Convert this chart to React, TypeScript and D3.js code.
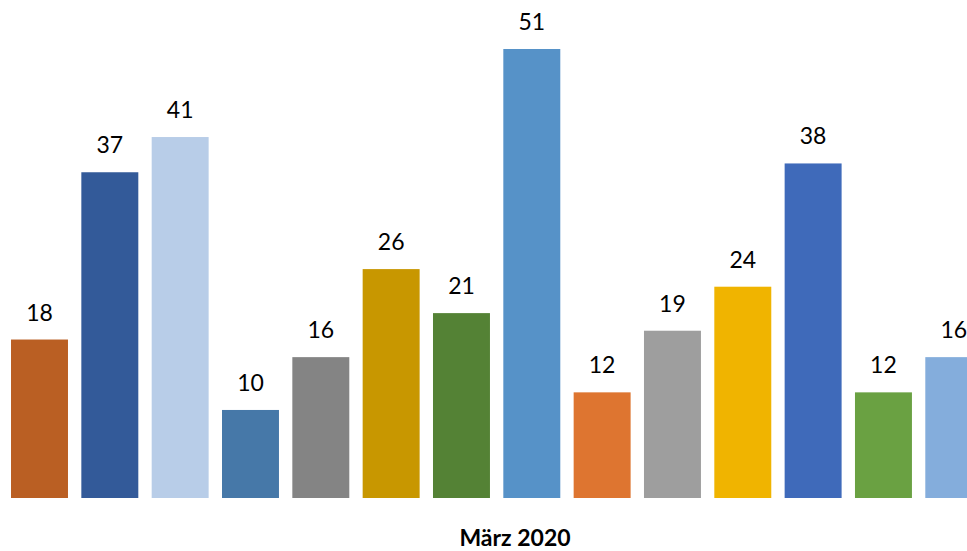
import React from "react";
import * as d3 from "d3";

const categories = ["1", "2", "3", "4", "5", "6", "7", "8", "9", "10", "11", "12", "13", "14"];
const values = [18, 37, 41, 10, 16, 26, 21, 51, 12, 19, 24, 38, 12, 16];
const colors = [
  "#BA5F23", "#335A99", "#B8CDE8", "#4678A8", "#848484", "#C89700", "#548235",
  "#5692C8", "#DE7530", "#9E9E9E", "#F0B400", "#3F6ABA", "#6AA142", "#84ADDC",
];
const axisTitle = "März 2020";

const W = 967;
const H = 551;

export default function App() {
  const x = d3
    .scaleBand<string>()
    .domain(categories)
    .range([4.33, 4.33 + 14 * 70.33])
    .paddingInner(0.19)
    .paddingOuter(0.095);
  const y = d3.scaleLinear().domain([0, 51]).range([498, 49]);
  const font = "Lato, 'Open Sans', sans-serif";
  return (
    <svg
      width={W}
      height={H}
      style={{ position: "absolute", left: 0, top: 0, background: "#fff" }}
    >
      {values.map((v, i) => {
        const c = categories[i];
        const bx = x(c)!;
        return (
          <g key={c}>
            <rect x={bx} y={y(v)} width={x.bandwidth()} height={y(0) - y(v)} fill={colors[i]} />
            <text
              x={bx + x.bandwidth() / 2}
              y={y(v) - 19}
              textAnchor="middle"
              fontFamily={font}
              fontSize={23}
              fill="#000"
            >
              {v}
            </text>
          </g>
        );
      })}
      <text
        x={515}
        y={546}
        textAnchor="middle"
        fontFamily={font}
        fontWeight="bold"
        fontSize={23}
        fill="#000"
      >
        {axisTitle}
      </text>
    </svg>
  );
}
